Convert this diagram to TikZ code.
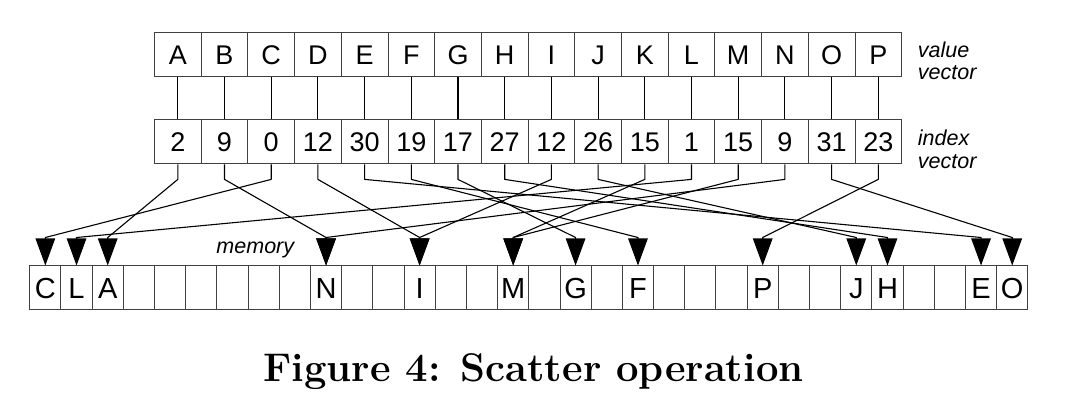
\documentclass[tikz,border=0pt]{standalone}
\usepackage{fontspec}
\newfontfamily\arialf{Liberation Sans}
\usetikzlibrary{arrows.meta}
\begin{document}
\begin{tikzpicture}[x=1pt,y=-1pt,
  vbox/.style={draw=black!75, line width=0.9pt, minimum width=46.7pt, minimum height=44pt,
    inner sep=0pt, anchor=north west, font=\arialf\fontsize{27}{27}\selectfont,
    text height=19.4pt, text depth=0pt},
  mbox/.style={draw=black!75, line width=0.9pt, minimum width=31.19pt, minimum height=43.5pt,
    inner sep=0pt, anchor=north west, font=\arialf\fontsize{29}{29}\selectfont,
    text height=20.8pt, text depth=0pt},
  lab/.style={font=\arialf\itshape\fontsize{21.5}{22}\selectfont, anchor=base west, inner sep=0pt},
  conn/.style={draw=black, line width=1.1pt},
  scat/.style={conn, line join=round, -{Triangle[length=27pt,width=19.5pt]}}
]
\useasboundingbox[fill=white] (0,0) rectangle (1080,403);
% value and index vectors
\foreach \L/\n [count=\k from 0] in {A/2,B/9,C/0,D/12,E/30,F/19,G/17,H/27,I/12,J/26,K/15,L/1,M/15,N/9,O/31,P/23} {
  \node[vbox] (v\k) at ({154+46.7*\k}, 32.5) {\L};
  \node[vbox] (i\k) at ({154+46.7*\k}, 119.5) {\n};
  \draw[conn] (v\k.south) -- (i\k.north);
}
% memory
\foreach \t [count=\k from 0] in {C,L,A,{},{},{},{},{},{},N,{},{},I,{},{},M,{},G,{},F,{},{},{},P,{},{},J,H,{},{},E,O} {
  \node[mbox] (m\k) at ({29.3+31.19*\k}, 265.5) {\t};
}
% scatter connectors
\foreach \n [count=\k from 0] in {2,9,0,12,30,19,17,27,12,26,15,1,15,9,31,23} {
  \draw[scat] (i\k.south) -- ++(0,15) -- ([yshift=28pt]m\n.north) -- (m\n.north);
}
% labels
\node[lab] (lv1) at (917.7, 57.7) {value};
\node[lab] (lv2) at (917.7, 80) {vector};
\node[lab] (li1) at (917.7, 145.7) {index};
\node[lab] (li2) at (917.7, 168.3) {vector};
\node[lab, anchor=base] (mem) at (255.3, 253.5) {memory};
\node[anchor=base, inner sep=0pt, font=\fontsize{40}{44}\selectfont\bfseries] (cap) at (533.4, 381.5) {Figure 4: Scatter operation};
\end{tikzpicture}
\end{document}
